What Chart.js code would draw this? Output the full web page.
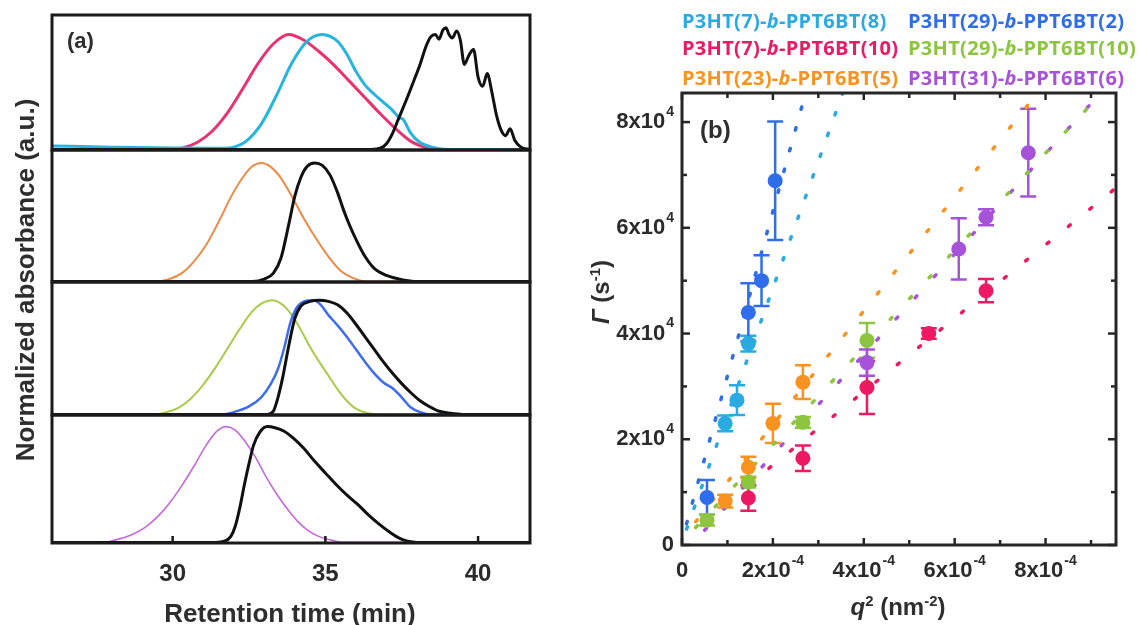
<!DOCTYPE html>
<html>
<head>
<meta charset="utf-8">
<title>GPC traces and relaxation rates of P3HT-b-PPT6BT block copolymers</title>
<script src="https://cdn.jsdelivr.net/npm/chart.js@4.4.1/dist/chart.umd.min.js"></script>
<style>
  html, body { margin: 0; padding: 0; background: #fff; }
  #fig { position: relative; width: 1144px; height: 625px; overflow: hidden; color: #2e2e2e;
         font-family: "Liberation Sans", Arial, sans-serif; font-weight: 700; }
  #fig canvas { position: absolute; }
  .txt { position: absolute; white-space: nowrap; line-height: 1; }
  .legend-item { position: absolute; white-space: nowrap; font-family: "Open Sans", sans-serif;
                 font-weight: 700; font-size: 20px; letter-spacing: 0.3px; line-height: 22px; }
  .sup { font-size: 62%; position: relative; top: -0.62em; }
</style>
</head>
<body>
<div id="fig">
  <canvas id="a1" width="545" height="145" style="left:0;top:10px"></canvas>
  <canvas id="a2" width="545" height="142" style="left:0;top:145px"></canvas>
  <canvas id="a3" width="545" height="143" style="left:0;top:277px"></canvas>
  <canvas id="a4" width="545" height="215" style="left:0;top:410px"></canvas>
  <canvas id="b" width="584" height="625" style="left:560px;top:0"></canvas>

  <div class="txt" style="font-size:22px;left:67px;top:30px">(a)</div>
  <div class="txt" style="font-size:26px;width:420px;text-align:center;left:-185px;top:267px;transform:rotate(-90deg)">Normalized absorbance (a.u.)</div>
  <div class="txt" style="font-size:26px;width:300px;text-align:center;left:140px;top:600px">Retention time (min)</div>

  <div class="txt" style="font-size:24px;left:700px;top:118px">(b)</div>
  <div class="txt" style="font-size:24px;width:120px;text-align:center;left:541px;top:280px;transform:rotate(-90deg)"><i>Γ</i> (s<span class="sup">-1</span>)</div>
  <div class="txt" style="font-size:24px;width:200px;text-align:center;left:798px;top:595px"><i>q</i><span class="sup">2</span> (nm<span class="sup">-2</span>)</div>
  <div id="legendB"></div>
</div>

<script>
// ---------- panel (a): normalized GPC traces, [retention time (min), absorbance] ----------
// top: P3HT(7)-b-PPT6BT(8), P3HT(7)-b-PPT6BT(10) and their P3HT block
const trace7_8 = [[26.05,0.03],[28,0.02],[30,0.012],[31.6,0.01],[32.0,0.02],[32.4,0.07],[32.9,0.22],
  [33.4,0.47],[33.9,0.75],[34.4,0.94],[34.9,1.0],[35.4,0.94],[35.7,0.83],[36.0,0.68],[36.3,0.56],
  [36.6,0.48],[36.9,0.41],[37.2,0.34],[37.4,0.28],[37.55,0.26],[37.8,0.14],[38.1,0.06],[38.5,0.02],[39,0],[41.7,0]];
const trace7_10 = [[26.05,0],[30.0,0],[30.3,0.01],[30.8,0.06],[31.3,0.16],[31.8,0.32],[32.3,0.53],
  [32.8,0.75],[33.3,0.92],[33.8,1.0],[34.3,0.95],[34.8,0.85],[35.3,0.73],[35.8,0.59],[36.3,0.45],
  [36.8,0.31],[37.3,0.18],[37.8,0.07],[38.3,0.015],[38.8,0],[41.7,0]];
const p3htTrace1 = [[26.05,0],[36.5,0],[36.8,0.01],[37.0,0.05],[37.2,0.14],[37.4,0.27],[37.65,0.43],
  [37.9,0.6],[38.1,0.74],[38.3,0.9],[38.45,0.98],[38.6,1.0],[38.72,0.96],[38.85,1.04],[38.95,1.06],
  [39.05,1.0],[39.15,0.97],[39.3,1.03],[39.42,0.95],[39.55,0.74],[39.7,0.82],[39.85,0.87],[40.0,0.63],
  [40.15,0.55],[40.3,0.66],[40.45,0.5],[40.6,0.3],[40.75,0.17],[40.9,0.12],[41.05,0.18],[41.2,0.08],
  [41.4,0.02],[41.7,0]];
// second: P3HT(23)-b-PPT6BT(5)
const trace23_5 = [[26.05,0],[29.5,0],[29.9,0.02],[30.3,0.07],[30.7,0.17],[31.1,0.31],[31.5,0.5],
  [31.9,0.71],[32.3,0.88],[32.6,0.97],[32.9,1.0],[33.2,0.97],[33.5,0.89],[33.9,0.72],[34.3,0.53],
  [34.7,0.36],[35.1,0.21],[35.5,0.09],[35.9,0.03],[36.3,0],[41.7,0]];
const p3htTrace2 = [[26.05,0],[32.6,0],[33.0,0.02],[33.3,0.07],[33.55,0.2],[33.8,0.48],[34.0,0.72],
  [34.2,0.88],[34.4,0.97],[34.65,1.0],[34.9,0.98],[35.15,0.9],[35.4,0.75],[35.6,0.6],[35.8,0.47],
  [36.05,0.33],[36.3,0.21],[36.6,0.11],[37.0,0.05],[37.5,0.015],[38,0],[41.7,0]];
// third: P3HT(29)-b-PPT6BT(10), P3HT(29)-b-PPT6BT(2)
const trace29_10 = [[26.05,0],[29.4,0],[29.8,0.02],[30.2,0.06],[30.6,0.14],[31.0,0.26],[31.4,0.41],
  [31.8,0.58],[32.2,0.75],[32.6,0.9],[32.9,0.97],[33.25,1.0],[33.6,0.96],[33.9,0.87],[34.2,0.74],
  [34.5,0.59],[34.8,0.46],[35.1,0.34],[35.4,0.22],[35.7,0.12],[36.0,0.05],[36.4,0.01],[36.8,0],[41.7,0]];
const trace29_2 = [[26.05,0],[31.6,0],[32.0,0.02],[32.5,0.07],[32.9,0.15],[33.2,0.26],[33.45,0.4],
  [33.65,0.58],[33.85,0.8],[34.05,0.93],[34.3,0.99],[34.6,1.0],[34.85,0.96],[35.1,0.87],[35.4,0.78],
  [35.7,0.68],[36.0,0.57],[36.3,0.46],[36.6,0.36],[36.9,0.28],[37.2,0.23],[37.5,0.15],[37.8,0.06],
  [38.1,0.02],[38.5,0],[41.7,0]];
const p3htTrace3 = [[26.05,0],[33.1,0],[33.3,0.03],[33.45,0.15],[33.6,0.32],[33.8,0.6],[34.0,0.84],
  [34.2,0.95],[34.5,0.99],[34.8,1.0],[35.1,0.99],[35.4,0.96],[35.7,0.89],[36.0,0.79],[36.3,0.68],
  [36.6,0.57],[36.9,0.46],[37.2,0.36],[37.5,0.27],[37.8,0.19],[38.1,0.12],[38.4,0.07],[38.7,0.03],
  [39.1,0.01],[39.5,0],[41.7,0]];
// bottom: P3HT(31)-b-PPT6BT(6)
const trace31_6 = [[26.05,0],[27.7,0],[28.1,0.02],[28.6,0.06],[29.1,0.13],[29.5,0.22],[29.9,0.34],
  [30.3,0.49],[30.7,0.66],[31.1,0.84],[31.45,0.96],[31.75,1.0],[32.05,0.97],[32.35,0.88],[32.7,0.74],
  [33.05,0.57],[33.4,0.42],[33.75,0.29],[34.1,0.18],[34.45,0.1],[34.8,0.05],[35.2,0.02],[35.6,0],[41.7,0]];
const p3htTrace4 = [[26.05,0],[31.4,0],[31.7,0.01],[31.9,0.05],[32.05,0.14],[32.2,0.3],[32.35,0.5],
  [32.5,0.68],[32.65,0.84],[32.85,0.95],[33.1,1.0],[33.35,0.99],[33.65,0.96],[33.95,0.9],[34.3,0.81],
  [34.65,0.7],[35.0,0.6],[35.35,0.5],[35.7,0.41],[36.05,0.33],[36.4,0.24],[36.75,0.16],[37.1,0.09],
  [37.4,0.04],[37.7,0.01],[38,0],[41.7,0]];
const retentionTicks = [30, 35, 40];

// ---------- panel (b): relaxation rate Γ (s^-1) vs q^2 (nm^-2) ----------
const seriesNames = ["P3HT(7)-b-PPT6BT(8)", "P3HT(29)-b-PPT6BT(2)", "P3HT(7)-b-PPT6BT(10)",
                     "P3HT(29)-b-PPT6BT(10)", "P3HT(23)-b-PPT6BT(5)", "P3HT(31)-b-PPT6BT(6)"];
const q2_7_8   = [0.95e-4, 1.21e-4, 1.46e-4];
const gam_7_8  = [2.30e4, 2.74e4, 3.81e4];
const err_7_8  = [0.15e4, 0.28e4, 0.15e4];
const q2_29_2  = [0.55e-4, 1.46e-4, 1.75e-4, 2.05e-4];
const gam_29_2 = [0.90e4, 4.40e4, 5.00e4, 6.89e4];
const err_29_2 = [0.33e4, 0.55e4, 0.48e4, 1.12e4];
const q2_7_10  = [1.46e-4, 2.66e-4, 4.07e-4, 5.43e-4, 6.69e-4];
const gam_7_10 = [0.89e4, 1.64e4, 2.98e4, 4.00e4, 4.81e4];
const err_7_10 = [0.24e4, 0.24e4, 0.50e4, 0.10e4, 0.22e4];
const q2_29_10  = [0.55e-4, 1.46e-4, 2.66e-4, 4.07e-4];
const gam_29_10 = [0.47e4, 1.19e4, 2.32e4, 3.87e4];
const err_29_10 = [0.10e4, 0.10e4, 0.10e4, 0.33e4];
const q2_23_5  = [0.95e-4, 1.46e-4, 2.00e-4, 2.66e-4];
const gam_23_5 = [0.83e4, 1.47e4, 2.30e4, 3.08e4];
const err_23_5 = [0.12e4, 0.20e4, 0.37e4, 0.32e4];
const q2_31_6  = [4.07e-4, 6.09e-4, 6.69e-4, 7.62e-4];
const gam_31_6 = [3.45e4, 5.60e4, 6.20e4, 7.42e4];
const err_31_6 = [0.25e4, 0.58e4, 0.15e4, 0.83e4];
// linear fits Γ = D q^2, given by their two end points [q^2, Γ]
const fit_7_8   = [[0.10e-4, 0.30e4], [3.60e-4, 8.70e4]];
const fit_29_2  = [[0.10e-4, 0.40e4], [2.80e-4, 8.80e4]];
const fit_7_10  = [[0.50e-4, 0.47e4], [9.60e-4, 6.79e4]];
const fit_29_10 = [[0.30e-4, 0.33e4], [9.40e-4, 8.70e4]];
const fit_23_5  = [[0.30e-4, 0.44e4], [8.00e-4, 8.74e4]];
const fit_31_6  = [[0.50e-4, 0.28e4], [9.40e-4, 8.73e4]];
const q2Ticks = [0, 2e-4, 4e-4, 6e-4, 8e-4];
const q2TickLabels = [["0", ""], ["2x10", "-4"], ["4x10", "-4"], ["6x10", "-4"], ["8x10", "-4"]];
const q2MinorTicks = [1e-4, 3e-4, 5e-4, 7e-4, 9e-4];
const gamTicks = [0, 2e4, 4e4, 6e4, 8e4];
const gamTickLabels = [["0", ""], ["2x10", "4"], ["4x10", "4"], ["6x10", "4"], ["8x10", "4"]];
const gamMinorTicks = [1e4, 3e4, 5e4, 7e4];

// ---------- drawing ----------
Chart.defaults.font.family = '"Liberation Sans", Arial, sans-serif';
const INK = '#2b2b2b';
const pts = arr => arr.map(([x, y]) => ({ x, y }));

// frame of each stacked trace box, with x ticks on the bottom one
const frameA = {
  id: 'frameA',
  afterDatasetsDraw(chart, args, opts) {
    const { ctx, chartArea: { left, right, top, bottom } } = chart;
    ctx.save();
    ctx.strokeStyle = '#1a1a1a';
    ctx.lineWidth = 3;
    ctx.strokeRect(left, top, right - left, bottom - top);
    if (opts.ticks) {
      const xs = chart.scales.x;
      ctx.lineWidth = 2.5;
      ctx.fillStyle = INK;
      ctx.font = 'bold 24px "Liberation Sans", Arial, sans-serif';
      ctx.textAlign = 'center';
      ctx.textBaseline = 'middle';
      for (const t of retentionTicks) {
        const px = xs.getPixelForValue(t);
        ctx.beginPath(); ctx.moveTo(px, bottom); ctx.lineTo(px, bottom - 7); ctx.stroke();
        ctx.fillText(String(t), px, bottom + 31);
      }
    }
    ctx.restore();
  }
};

function tracePanel(id, series, yMax, withTicks) {
  const padBottom = withTicks ? 82 : 5;
  return new Chart(document.getElementById(id), {
    type: 'line',
    data: {
      datasets: series.map(s => ({
        data: pts(s.data), borderColor: s.color, borderWidth: s.width,
        pointRadius: 0, cubicInterpolationMode: 'monotone', fill: false
      }))
    },
    options: {
      responsive: false, animation: false, devicePixelRatio: 1,
      layout: { padding: { left: 52, right: 15, top: 5, bottom: padBottom } },
      scales: {
        x: { type: 'linear', min: 26.05, max: 41.7, display: false },
        y: { type: 'linear', min: -0.005, max: yMax, display: false }
      },
      plugins: { legend: { display: false }, tooltip: { enabled: false }, frameA: { ticks: withTicks } }
    },
    plugins: [frameA]
  });
}

tracePanel('a1', [
  { data: p3htTrace1, color: '#111111', width: 3 },
  { data: trace7_8,   color: '#27B4DE', width: 3 },
  { data: trace7_10,  color: '#E8336E', width: 3 }
], 1.17, false);
tracePanel('a2', [
  { data: p3htTrace2, color: '#111111', width: 3 },
  { data: trace23_5,  color: '#EE8A45', width: 2 }
], 1.11, false);
tracePanel('a3', [
  { data: p3htTrace3, color: '#111111', width: 3 },
  { data: trace29_2,  color: '#3E6CEF', width: 2.5 },
  { data: trace29_10, color: '#A9CB48', width: 2 }
], 1.16, false);
tracePanel('a4', [
  { data: p3htTrace4, color: '#111111', width: 3 },
  { data: trace31_6,  color: '#C46AD8', width: 1.6 }
], 1.10, true);

// ---------- panel (b) ----------
const colorsB = ['#2AAAE2', '#2F6DEB', '#EC1A63', '#8DC540', '#F7931E', '#A653D9'];
const scatterSets = [
  [q2_7_8, gam_7_8, err_7_8], [q2_29_2, gam_29_2, err_29_2], [q2_7_10, gam_7_10, err_7_10],
  [q2_29_10, gam_29_10, err_29_10], [q2_23_5, gam_23_5, err_23_5], [q2_31_6, gam_31_6, err_31_6]
];
const fitSets = [fit_7_8, fit_29_2, fit_7_10, fit_29_10, fit_23_5, fit_31_6];
const fitDash = [[2.5, 19.5], [2.5, 19], [2.5, 25], [2.5, 26], [2.5, 24], [2.5, 26]];

const datasetsB = [];
scatterSets.forEach(([xs, ys, es], i) => {
  datasetsB.push({
    label: seriesNames[i], data: xs.map((x, k) => ({ x, y: ys[k] })), errors: es,
    showLine: false, pointRadius: 7.5, pointHoverRadius: 7.5, pointBorderWidth: 0,
    backgroundColor: colorsB[i], borderColor: colorsB[i]
  });
});
fitSets.forEach((f, i) => {
  datasetsB.push({
    label: seriesNames[i] + ' fit', data: pts(f), showLine: true, pointRadius: 0,
    borderColor: colorsB[i], borderWidth: 3.5, borderDash: fitDash[i], borderCapStyle: 'round'
  });
});

function drawSupLabel(ctx, base, sup, x, y, align) {
  ctx.font = 'bold 22px "Liberation Sans", Arial, sans-serif';
  const wb = ctx.measureText(base).width;
  ctx.font = 'bold 14px "Liberation Sans", Arial, sans-serif';
  const ws = sup ? ctx.measureText(sup).width + 1 : 0;
  const total = wb + ws;
  const start = align === 'right' ? x - total : x - total / 2;
  ctx.textAlign = 'left';
  ctx.textBaseline = 'middle';
  ctx.font = 'bold 22px "Liberation Sans", Arial, sans-serif';
  ctx.fillText(base, start, y);
  if (sup) {
    ctx.font = 'bold 14px "Liberation Sans", Arial, sans-serif';
    ctx.fillText(sup, start + wb + 1, y - 10);
  }
}

const axesB = {
  id: 'axesB',
  beforeDatasetsDraw(chart) {
    // vertical error bars with caps
    const { ctx } = chart;
    const ys = chart.scales.y;
    ctx.save();
    ctx.lineWidth = 2.5;
    chart.data.datasets.forEach((ds, i) => {
      if (!ds.errors) return;
      const meta = chart.getDatasetMeta(i);
      ctx.strokeStyle = ds.borderColor;
      meta.data.forEach((el, k) => {
        const v = ds.data[k].y, e = ds.errors[k];
        const y1 = ys.getPixelForValue(v + e), y2 = ys.getPixelForValue(v - e);
        ctx.beginPath();
        ctx.moveTo(el.x, y1); ctx.lineTo(el.x, y2);
        ctx.moveTo(el.x - 8, y1); ctx.lineTo(el.x + 8, y1);
        ctx.moveTo(el.x - 8, y2); ctx.lineTo(el.x + 8, y2);
        ctx.stroke();
      });
    });
    ctx.restore();
  },
  afterDraw(chart) {
    const { ctx, chartArea: { left, right, top, bottom } } = chart;
    const xs = chart.scales.x, ys = chart.scales.y;
    ctx.save();
    ctx.strokeStyle = '#262626';
    ctx.lineWidth = 3;
    ctx.strokeRect(left, top, right - left, bottom - top);
    ctx.lineWidth = 2.5;
    const tick = (x1, y1, x2, y2) => { ctx.beginPath(); ctx.moveTo(x1, y1); ctx.lineTo(x2, y2); ctx.stroke(); };
    q2Ticks.concat(q2MinorTicks).forEach(v => {
      const px = xs.getPixelForValue(v);
      const len = q2Ticks.includes(v) ? 7 : 5;
      tick(px, bottom, px, bottom - len);
      tick(px, top, px, top + len);
    });
    gamTicks.concat(gamMinorTicks).forEach(v => {
      const py = ys.getPixelForValue(v);
      const len = gamTicks.includes(v) ? 8 : 5;
      tick(left, py, left + len, py);
      tick(right, py, right - len, py);
    });
    ctx.fillStyle = INK;
    q2Ticks.forEach((v, i) => {
      drawSupLabel(ctx, q2TickLabels[i][0], q2TickLabels[i][1], xs.getPixelForValue(v), bottom + 26, 'center');
    });
    gamTicks.forEach((v, i) => {
      drawSupLabel(ctx, gamTickLabels[i][0], gamTickLabels[i][1], left - 8, ys.getPixelForValue(v), 'right');
    });
    ctx.restore();
  }
};

new Chart(document.getElementById('b'), {
  type: 'scatter',
  data: { datasets: datasetsB },
  options: {
    responsive: false, animation: false, devicePixelRatio: 1,
    layout: { padding: { left: 122, right: 28, top: 93, bottom: 80 } },
    scales: {
      x: { type: 'linear', min: 0, max: 9.55e-4, display: false },
      y: { type: 'linear', min: 0, max: 8.55e4, display: false }
    },
    plugins: { legend: { display: false }, tooltip: { enabled: false } }
  },
  plugins: [axesB]
});

// colored text legend, two columns
const legendBox = document.getElementById('legendB');
const legendPos = [[682, 10], [908, 10], [682, 37], [908, 37], [682, 67], [908, 67]];
seriesNames.forEach((name, i) => {
  const el = document.createElement('div');
  el.className = 'legend-item';
  el.style.left = legendPos[i][0] + 'px';
  el.style.top = legendPos[i][1] + 'px';
  el.style.color = colorsB[i];
  el.innerHTML = name.replace('-b-', '-<i>b</i>-');
  legendBox.appendChild(el);
});
</script>
</body>
</html>
